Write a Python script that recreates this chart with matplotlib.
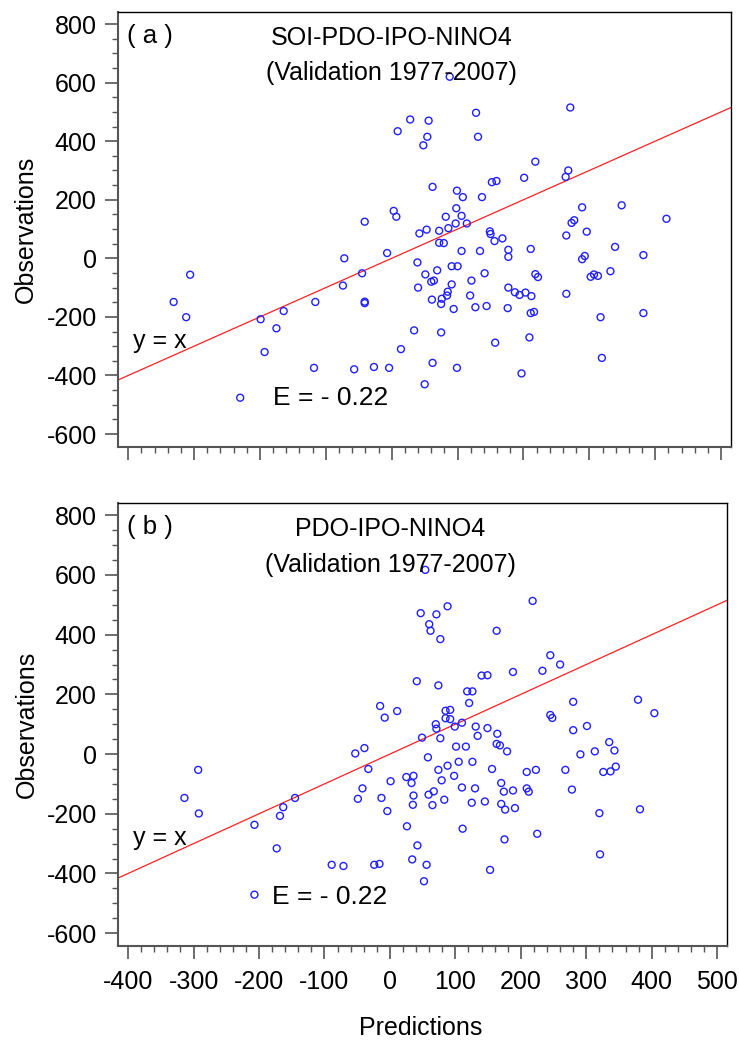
"""
Scatter plots of predictions vs observations for two validation models (1977-2007).
"""

import matplotlib
matplotlib.use('Agg')
import matplotlib.pyplot as plt
from matplotlib import font_manager
from matplotlib.ticker import MultipleLocator

# Panel (a): SOI-PDO-IPO-NINO4
pred_a = [-41, 88, 271, 128, 28, 56, 9, 131, 54, 48, 218, 268, 264, 201, 152, 159, 62, 99, 108, 137,
          349, 289, 98, 3, 7, 82, 106, 417, 277, 273, 97, 114, 86, 72, 53, 42, 296, 149, 150, 265,
          168, 156, 72, 79, 106, 134, 177, 177, 211, 339, 382, 289, 293, -7, 39, -45, 51, 69, 91, 100,
          141, 60, 64, 121, 40, 91, 85, 84, 76, 61, 75, 94, 119, 127, 144, 177, 187, 194, 203, 212,
          176, 211, 216, 218, 222, 265, 302, 307, 313, 332, 382, 317, 34, 75, 209, 157, 14, 319, -27, -4,
          62, 99, 197, 50, -72, -74, -41, -41, -116, -164, -199, -175, -193, -118, -57, -230, -331, -312, -306]
obs_a = [125, 620, 515, 497, 474, 470, 434, 415, 415, 386, 330, 300, 278, 275, 260, 264, 244, 231, 209, 209,
         181, 174, 171, 162, 142, 142, 145, 135, 130, 121, 119, 119, 103, 94, 98, 85, 91, 92, 83, 78,
         68, 59, 53, 52, 25, 25, 29, 5, 32, 39, 11, -3, 8, 18, -14, -51, -55, -41, -27, -27,
         -51, -80, -76, -76, -100, -89, -114, -127, -138, -141, -156, -173, -127, -167, -163, -100, -116, -125, -117, -129,
         -170, -187, -183, -54, -64, -121, -63, -55, -60, -44, -187, -201, -246, -253, -270, -288, -310, -340, -371, -374,
         -357, -374, -393, -430, 0, -93, -148, -153, -149, -180, -208, -239, -320, -374, -379, -476, -149, -201, -56]

# Panel (b): PDO-IPO-NINO4
pred_b = [54, 218, 88, 47, 71, 60, 62, 163, 77, 245, 260, 188, 233, 140, 149, 41, 74, 118, 126, 121,
          280, 379, 404, -15, -8, 11, 85, 92, 85, 92, 245, 248, 70, 71, 110, 99, 131, 149, 301, 280,
          49, 77, 134, 164, 163, 168, 179, 101, 116, 58, 105, 126, -39, -33, 156, 74, 88, 209, 223, 268,
          291, 313, 335, 343, 326, 337, 345, 25, 36, 33, 1, -42, 79, 98, 110, 130, 170, 174, 188, 209,
          212, 278, 36, 59, 67, -13, -49, 35, 65, 83, 125, 145, 170, 176, 191, -4, 320, 382, 26, 111,
          225, 42, 175, 321, 34, -24, -16, 56, 153, 52, -53, -145, -163, -168, -207, -173, -89, -71, -207, -314,
          -292, -293]
obs_b = [617, 513, 495, 472, 468, 435, 413, 413, 385, 331, 300, 275, 279, 263, 264, 244, 230, 210, 210, 171,
         175, 182, 137, 161, 122, 144, 145, 148, 120, 117, 131, 121, 100, 85, 105, 92, 92, 87, 94, 80,
         55, 53, 61, 68, 34, 29, 9, 25, 25, -11, -26, -26, 20, -50, -50, -53, -39, -60, -53, -53,
         -1, 9, 40, 12, -60, -58, -42, -77, -73, -97, -91, -115, -88, -73, -112, -115, -97, -126, -122, -115,
         -126, -119, -139, -136, -125, -147, -150, -170, -171, -153, -163, -159, -167, -186, -181, -191, -198, -185, -242, -250,
         -267, -306, -286, -336, -353, -371, -368, -371, -388, -426, 2, -147, -178, -207, -237, -316, -371, -375, -471, -147,
         -199, -53]

x_ticks = [-400, -300, -200, -100, 0, 100, 200, 300, 400, 500]
y_ticks = [-600, -400, -200, 0, 200, 400, 600, 800]

available = {f.name for f in font_manager.fontManager.ttflist}
family = 'Liberation Sans Narrow' if 'Liberation Sans Narrow' in available else 'Liberation Sans'
plt.rcParams['font.family'] = [family, 'DejaVu Sans']
plt.rcParams['axes.unicode_minus'] = False

XLIM = (-415, 515)
YLIM = (-643, 842)


def draw_panel(ax, pred, obs, tag, title, show_xlabels):
    # y = x reference line
    ax.plot(XLIM, XLIM, color='#ff2020', linewidth=0.9, zorder=1)
    ax.scatter(pred, obs, s=25, facecolors='none', edgecolors='#2020ff', linewidths=1.0, zorder=2)

    ax.set_xlim(*XLIM)
    ax.set_ylim(*YLIM)
    ax.set_xticks(x_ticks)
    ax.set_yticks(y_ticks)
    ax.xaxis.set_minor_locator(MultipleLocator(20))
    ax.yaxis.set_minor_locator(MultipleLocator(50))
    ax.tick_params(which='major', direction='out', length=9.5, width=1.2, color='#555555',
                   labelsize=18, pad=6)
    ax.tick_params(which='minor', direction='out', length=4.5, width=1.0, color='#555555')
    ax.tick_params(axis='x', which='major', pad=8)
    if not show_xlabels:
        ax.tick_params(axis='x', labelbottom=False)

    for side in ['left', 'bottom']:
        ax.spines[side].set_color('#555555')
        ax.spines[side].set_linewidth(1.5)
    for side in ['top', 'right']:
        ax.spines[side].set_color('black')
        ax.spines[side].set_linewidth(1.0)

    ax.text(-402, 760, tag, fontsize=18.5, ha='left', va='center')
    ax.text(0, 753, title, fontsize=18, ha='center', va='center')
    ax.text(0, 634, '(Validation 1977-2007)', fontsize=18, ha='center', va='center')
    ax.text(-393, -305, 'y = x', fontsize=18, ha='left', va='baseline')
    ax.text(-180, -502, 'E = - 0.22', fontsize=19, ha='left', va='baseline')

    ax.set_ylabel('Observations', fontsize=18)
    ax.yaxis.set_label_coords(-0.131, 0.5)


fig = plt.figure(figsize=(7.39, 10.46), dpi=100)
ax_a = fig.add_axes([0.1601, 0.5730, 0.8291, 0.4158])
ax_b = fig.add_axes([0.1601, 0.0956, 0.8237, 0.4238])

draw_panel(ax_a, pred_a, obs_a, '( a )', 'SOI-PDO-IPO-NINO4', False)
draw_panel(ax_b, pred_b, obs_b, '( b )', 'PDO-IPO-NINO4', True)

ax_b.set_xlabel('Predictions', fontsize=18)
ax_b.xaxis.set_label_coords(0.497, -0.158)

fig.savefig('out.png', dpi=100)
